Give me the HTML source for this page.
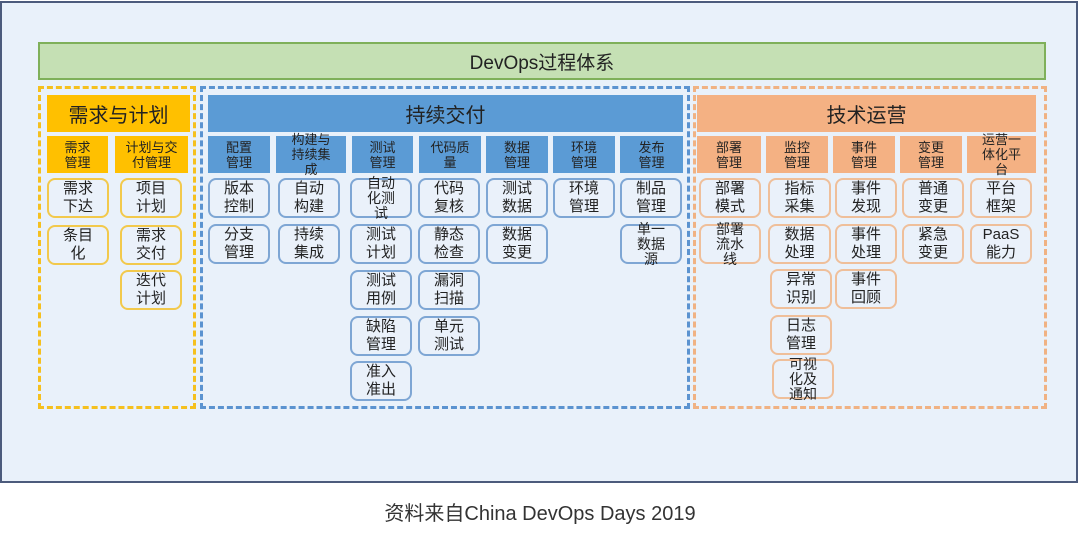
<!DOCTYPE html>
<html><head><meta charset="utf-8"><style>
*{margin:0;padding:0;box-sizing:border-box}
body{width:1080px;height:534px;background:#fff;position:relative;overflow:hidden;font-family:"Liberation Sans","Noto Sans CJK SC",sans-serif;color:#222}
.a{position:absolute;display:flex;align-items:center;justify-content:center;text-align:center}
.o{position:absolute;left:0;top:1px;width:1078px;height:482px;background:#e9f1fa;border:2px solid #4c5b7c}
.g{left:38px;top:42px;width:1008px;height:38px;background:#c5e0b4;border:2px solid #7fb05a;font-size:19px;color:#222}
.d{position:absolute;top:86px;height:323px;border:3px dashed}
.t{top:95px;height:37px;font-size:20px}
.s{top:136px;height:37px;font-size:13px;line-height:15px}
.i{background:#eaf1fa;border:2px solid;border-radius:8px;font-size:15px;line-height:18px;height:40px}
.y .i,.i.y{border-color:#f2c94c}
.b{border-color:#7ea6d4}
.r{border-color:#efbf9a}
</style></head><body>
<div class="o"></div>
<div class="a g">DevOps过程体系</div>
<div class="d" style="left:38px;width:158px;border-color:#f5c01e"></div>
<div class="d" style="left:200px;width:490px;border-color:#5b93d0"></div>
<div class="d" style="left:693px;width:354px;border-color:#f0b283"></div>

<div class="a t" style="left:47px;width:143px;background:#ffc000">需求与计划</div>
<div class="a s" style="left:47px;width:61px;background:#ffc000">需求<br>管理</div>
<div class="a s" style="left:115px;width:73px;background:#ffc000">计划与交<br>付管理</div>
<div class="a i y" style="left:47px;top:178px;width:62px">需求<br>下达</div>
<div class="a i y" style="left:47px;top:225px;width:62px">条目<br>化</div>
<div class="a i y" style="left:120px;top:178px;width:62px">项目<br>计划</div>
<div class="a i y" style="left:120px;top:225px;width:62px">需求<br>交付</div>
<div class="a i y" style="left:120px;top:270px;width:62px">迭代<br>计划</div>

<div class="a t" style="left:208px;width:475px;background:#5b9bd5">持续交付</div>
<div class="a s" style="left:208px;width:62px;background:#5b9bd5">配置<br>管理</div>
<div class="a s" style="left:276px;width:70px;background:#5b9bd5">构建与<br>持续集<br>成</div>
<div class="a s" style="left:352px;width:61px;background:#5b9bd5">测试<br>管理</div>
<div class="a s" style="left:419px;width:62px;background:#5b9bd5">代码质<br>量</div>
<div class="a s" style="left:486px;width:62px;background:#5b9bd5">数据<br>管理</div>
<div class="a s" style="left:553px;width:62px;background:#5b9bd5">环境<br>管理</div>
<div class="a s" style="left:620px;width:63px;background:#5b9bd5">发布<br>管理</div>
<div class="a i b" style="left:208px;top:178px;width:62px">版本<br>控制</div>
<div class="a i b" style="left:208px;top:224px;width:62px">分支<br>管理</div>
<div class="a i b" style="left:278px;top:178px;width:62px">自动<br>构建</div>
<div class="a i b" style="left:278px;top:224px;width:62px">持续<br>集成</div>
<div class="a i b" style="left:350px;top:178px;width:62px;font-size:14px;line-height:15px">自动<br>化测<br>试</div>
<div class="a i b" style="left:350px;top:224px;width:62px">测试<br>计划</div>
<div class="a i b" style="left:350px;top:270px;width:62px">测试<br>用例</div>
<div class="a i b" style="left:350px;top:316px;width:62px">缺陷<br>管理</div>
<div class="a i b" style="left:350px;top:361px;width:62px">准入<br>准出</div>
<div class="a i b" style="left:418px;top:178px;width:62px">代码<br>复核</div>
<div class="a i b" style="left:418px;top:224px;width:62px">静态<br>检查</div>
<div class="a i b" style="left:418px;top:270px;width:62px">漏洞<br>扫描</div>
<div class="a i b" style="left:418px;top:316px;width:62px">单元<br>测试</div>
<div class="a i b" style="left:486px;top:178px;width:62px">测试<br>数据</div>
<div class="a i b" style="left:486px;top:224px;width:62px">数据<br>变更</div>
<div class="a i b" style="left:553px;top:178px;width:62px">环境<br>管理</div>
<div class="a i b" style="left:620px;top:178px;width:62px">制品<br>管理</div>
<div class="a i b" style="left:620px;top:224px;width:62px;font-size:14px;line-height:15px">单一<br>数据<br>源</div>

<div class="a t" style="left:697px;width:339px;background:#f4b183">技术运营</div>
<div class="a s" style="left:697px;width:64px;background:#f4b183">部署<br>管理</div>
<div class="a s" style="left:766px;width:62px;background:#f4b183">监控<br>管理</div>
<div class="a s" style="left:833px;width:62px;background:#f4b183">事件<br>管理</div>
<div class="a s" style="left:900px;width:62px;background:#f4b183">变更<br>管理</div>
<div class="a s" style="left:967px;width:69px;background:#f4b183">运营一<br>体化平<br>台</div>
<div class="a i r" style="left:699px;top:178px;width:62px">部署<br>模式</div>
<div class="a i r" style="left:699px;top:224px;width:62px;font-size:14px;line-height:15px">部署<br>流水<br>线</div>
<div class="a i r" style="left:768px;top:178px;width:63px">指标<br>采集</div>
<div class="a i r" style="left:768px;top:224px;width:63px">数据<br>处理</div>
<div class="a i r" style="left:770px;top:269px;width:62px">异常<br>识别</div>
<div class="a i r" style="left:770px;top:315px;width:62px">日志<br>管理</div>
<div class="a i r" style="left:772px;top:359px;width:62px;font-size:14px;line-height:15px">可视<br>化及<br>通知</div>
<div class="a i r" style="left:835px;top:178px;width:62px">事件<br>发现</div>
<div class="a i r" style="left:835px;top:224px;width:62px">事件<br>处理</div>
<div class="a i r" style="left:835px;top:269px;width:62px">事件<br>回顾</div>
<div class="a i r" style="left:902px;top:178px;width:62px">普通<br>变更</div>
<div class="a i r" style="left:902px;top:224px;width:62px">紧急<br>变更</div>
<div class="a i r" style="left:970px;top:178px;width:62px">平台<br>框架</div>
<div class="a i r" style="left:970px;top:224px;width:62px">PaaS<br>能力</div>

<div class="a" style="left:0;top:496px;width:1080px;height:30px;font-size:20px;color:#333">资料来自China DevOps Days 2019</div>
</body></html>
